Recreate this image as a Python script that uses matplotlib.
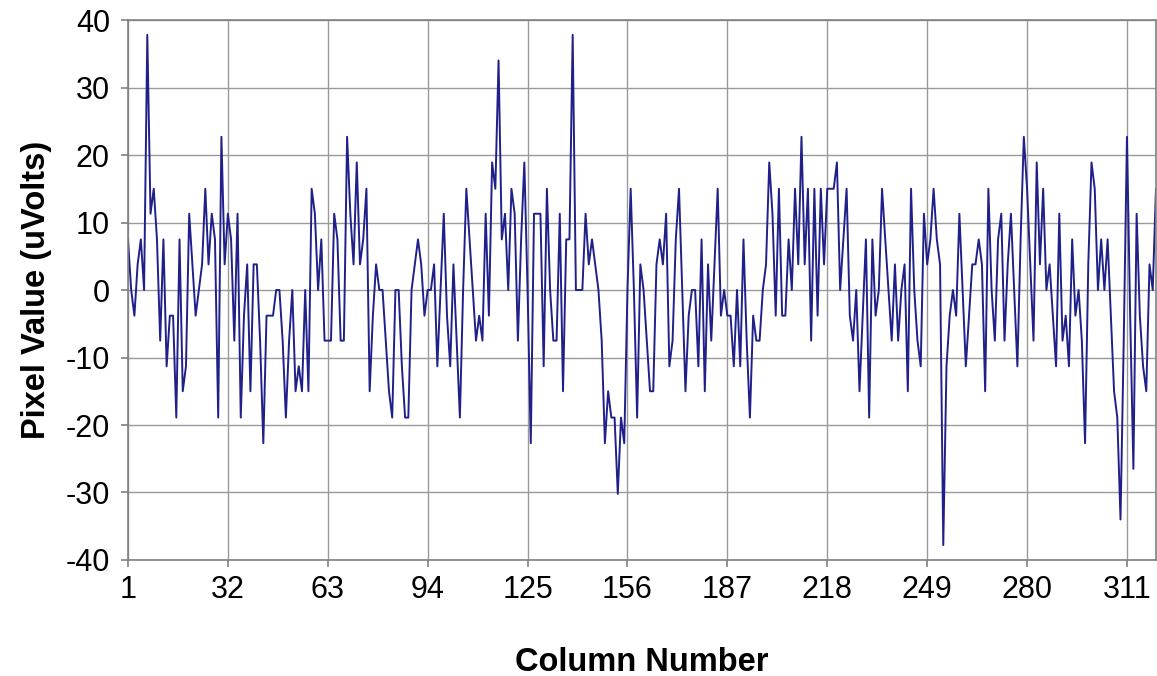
# Profilo di una riga di pixel: valore in uV per colonna

import matplotlib
matplotlib.use("Agg")
import matplotlib.pyplot as plt

plt.rcParams["font.family"] = ["Liberation Sans", "DejaVu Sans"]
plt.rcParams["axes.unicode_minus"] = False

# valori (uV), una voce per colonna 1..320
pixel_values = [
    7.5, 0, -3.8, 3.8, 7.5, 0, 37.8, 11.3, 15, 7.5,
    -7.5, 7.5, -11.3, -3.8, -3.8, -18.9, 7.5, -15, -11.3, 11.3,
    3.8, -3.8, 0, 3.8, 15, 3.8, 11.3, 7.5, -18.9, 22.7,
    3.8, 11.3, 7.5, -7.5, 11.3, -18.9, -3.8, 3.8, -15, 3.8,
    3.8, -7.5, -22.7, -3.8, -3.8, -3.8, 0, 0, -7.5, -18.9,
    -7.5, 0, -15, -11.3, -15, 0, -15, 15, 11.3, 0,
    7.5, -7.5, -7.5, -7.5, 11.3, 7.5, -7.5, -7.5, 22.7, 11.3,
    3.8, 18.9, 3.8, 7.5, 15, -15, -3.8, 3.8, 0, 0,
    -7.5, -15, -18.9, 0, 0, -11.3, -18.9, -18.9, 0, 3.8,
    7.5, 3.8, -3.8, 0, 0, 3.8, -11.3, 0, 11.3, -3.8,
    -11.3, 3.8, -7.5, -18.9, 0, 15, 7.5, 0, -7.5, -3.8,
    -7.5, 11.3, -3.8, 18.9, 15, 34, 7.5, 11.3, 0, 15,
    11.3, -7.5, 7.5, 18.9, 0, -22.7, 11.3, 11.3, 11.3, -11.3,
    15, 0, -7.5, -7.5, 11.3, -15, 7.5, 7.5, 37.8, 0,
    0, 0, 11.3, 3.8, 7.5, 3.8, 0, -7.5, -22.7, -15,
    -18.9, -18.9, -30.2, -18.9, -22.7, 0, 15, 0, -18.9, 3.8,
    0, -7.5, -15, -15, 3.8, 7.5, 3.8, 11.3, -11.3, -7.5,
    7.5, 15, 0, -15, -3.8, 0, 0, -11.3, 7.5, -15,
    3.8, -7.5, 3.8, 15, -3.8, 0, -3.8, -3.8, -11.3, 0,
    -11.3, 7.5, -7.5, -18.9, -3.8, -7.5, -7.5, 0, 3.8, 18.9,
    11.3, -3.8, 15, -3.8, -3.8, 7.5, 0, 15, 3.8, 22.7,
    3.8, 15, -7.5, 15, -3.8, 15, 3.8, 15, 15, 15,
    18.9, 0, 7.5, 15, -3.8, -7.5, 0, -15, -3.8, 7.5,
    -18.9, 7.5, -3.8, 0, 15, 7.5, 0, -7.5, 3.8, -7.5,
    0, 3.8, -15, 15, 0, -7.5, -11.3, 11.3, 3.8, 7.5,
    15, 7.5, 3.8, -37.8, -11.3, -3.8, 0, -3.8, 11.3, 0,
    -11.3, -3.8, 3.8, 3.8, 7.5, 3.8, -15, 15, 0, -7.5,
    7.5, 11.3, -7.5, 3.8, 11.3, 0, -11.3, 7.5, 22.7, 15,
    3.8, -7.5, 18.9, 3.8, 15, 0, 3.8, -3.8, -11.3, 11.3,
    -7.5, -3.8, -11.3, 7.5, -3.8, 0, -7.5, -22.7, 3.8, 18.9,
    15, 0, 7.5, 0, 7.5, -3.8, -15, -18.9, -34, -7.5,
    22.7, -3.8, -26.5, 11.3, -3.8, -11.3, -15, 3.8, 0, 15,
]
columns = list(range(1, len(pixel_values) + 1))

x_ticks = [1, 32, 63, 94, 125, 156, 187, 218, 249, 280, 311]
y_ticks = [-40, -30, -20, -10, 0, 10, 20, 30, 40]

fig = plt.figure(figsize=(11.57, 6.76), dpi=100)
ax = fig.add_axes([0.1106, 0.1716, 0.8885, 0.7988])

ax.plot(columns, pixel_values, color="#20208a", linewidth=1.4)

ax.set_xlim(1, len(pixel_values))
ax.set_ylim(-40, 40)
ax.set_xticks(x_ticks)
ax.set_yticks(y_ticks)
ax.grid(True, color="#9a9a9a", linewidth=1.0)
ax.set_axisbelow(True)
for spine in ax.spines.values():
    spine.set_color("#808080")
    spine.set_linewidth(1.2)
ax.tick_params(axis="both", labelsize=22, color="#808080", length=5, width=1.2)
ax.tick_params(axis="y", pad=8)
ax.tick_params(axis="x", pad=6)

ax.set_xlabel("Column Number", fontsize=23.5, fontweight="bold", labelpad=30)
ax.set_ylabel("Pixel Value (uVolts)", fontsize=23.5, fontweight="bold", labelpad=10)

fig.savefig("out.png", dpi=100)
plt.close(fig)
